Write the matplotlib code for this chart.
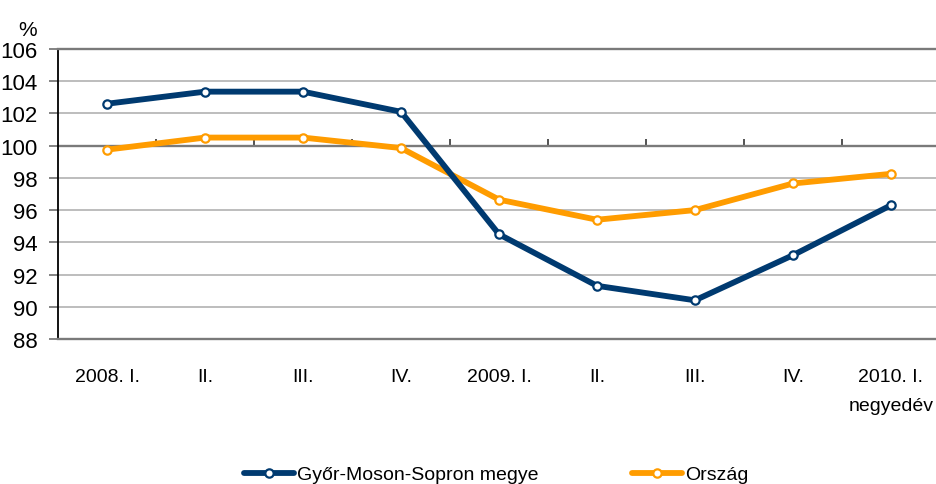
import numpy as np
import matplotlib.pyplot as plt

# negyedéves adatok (2008. I. - 2010. I.)
quarters = ['2008. I.', 'II.', 'III.', 'IV.', '2009. I.', 'II.', 'III.', 'IV.', '2010. I.\nnegyedév']
gyms = [102.6, 103.35, 103.35, 102.1, 94.5, 91.3, 90.4, 93.2, 96.3]
orszag = [99.75, 100.5, 100.5, 99.85, 96.65, 95.4, 96.0, 97.65, 98.25]
series_names = ['Győr-Moson-Sopron megye', 'Ország']

blue = '#003a70'
orange = '#ff9c00'

plt.rcParams['font.family'] = ['Liberation Sans', 'DejaVu Sans']

fig = plt.figure(figsize=(9.36, 4.85), dpi=100)
ax = fig.add_axes([0.062, 0.299, 0.938, 0.598])

x = np.arange(len(quarters))
ax.plot(x, gyms, color=blue, lw=4.2, marker='o', ms=6, mfc='white', mec=blue, mew=1.6,
        label=series_names[0], zorder=4, solid_capstyle='round')
ax.plot(x, orszag, color=orange, lw=4.2, marker='o', ms=6, mfc='white', mec=orange, mew=1.6,
        label=series_names[1], zorder=3, solid_capstyle='round')

ax.set_ylim(88, 106)
ax.set_xlim(-0.5, 8.46)
ax.set_yticks(np.arange(88, 107, 2))
for v in np.arange(90, 106, 2):
    if v != 100:
        ax.axhline(v, color='#bdbdbd', lw=1.4, zorder=1)
ax.axhline(100, color='#7a7a7a', lw=1.7, zorder=2)

for s in ['top', 'bottom']:
    ax.spines[s].set_color('#7a7a7a')
    ax.spines[s].set_linewidth(1.7)
ax.spines['right'].set_visible(False)
ax.spines['left'].set_color('black')
ax.spines['left'].set_linewidth(1.3)

ax.set_xticks(x)
ax.set_xticklabels(quarters, fontsize=14, linespacing=1.9, va='top')
ax.tick_params(axis='x', length=0, pad=21)
ax.tick_params(axis='y', length=6.5, width=1.3, color='#7a7a7a', labelsize=16, pad=8)

# kategóriahatárok jelölése a 100-as vonalon
sec = ax.secondary_xaxis((100 - 88) / 18)
sec.set_xticks(np.arange(0.5, 8, 1))
sec.tick_params(axis='x', direction='out', length=5, width=1.3, color='#444444', labelbottom=False,
                labeltop=False)
sec.spines['bottom'].set_visible(False)
sec.spines['top'].set_visible(False)

fig.text(0.02, 0.925, '%', fontsize=15)

fig.legend(loc='lower center', bbox_to_anchor=(0.53, -0.035), ncol=2, frameon=False,
           fontsize=14, handlelength=2.6, handletextpad=0.15, columnspacing=4.8)

fig.savefig('out.png', dpi=100)
